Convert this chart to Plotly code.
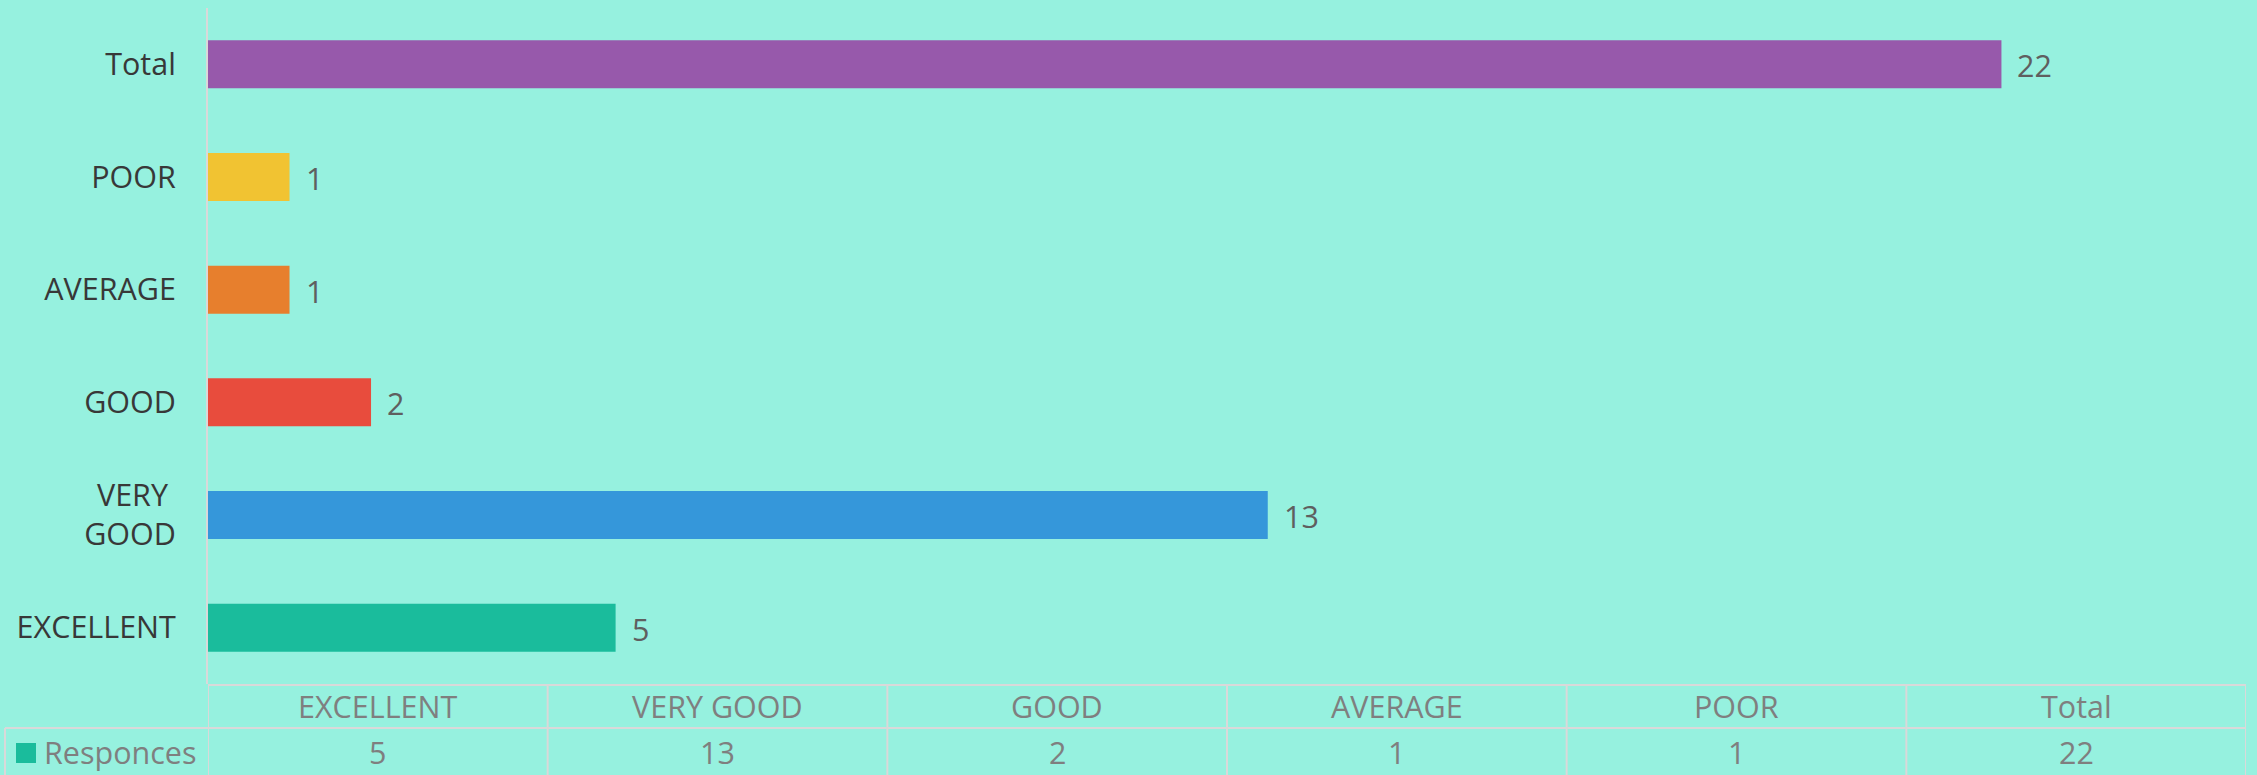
import plotly.graph_objects as go

# ---- data ----
categories = ["EXCELLENT", "VERY GOOD", "GOOD", "AVERAGE", "POOR", "Total"]
y_tick_labels = ["EXCELLENT", "VERY\u00a0<br>GOOD", "GOOD", "AVERAGE", "POOR", "Total"]
responces = [5, 13, 2, 1, 1, 22]
series_name = "Responces"
bar_colors = ["#1ABC9C", "#3597DA", "#E84C3D", "#E77F2D", "#F1C332", "#9759AB"]

# ---- styling ----
BG = "#96F1DF"
GRID = "#D9D9D9"
FONT = "Open Sans"
FS = 30.5
W, H = 2257, 775
ML, MR, MT, MB = 208, 11, 8, 91
PW = W - ML - MR
PH = H - MT - MB


def py(pix):
    """pixel y (from top) -> paper y"""
    return (H - MB - pix) / PH


def px(pix):
    return (pix - ML) / PW


fig = go.Figure()
fig.add_trace(go.Bar(
    x=responces, y=categories, orientation="h",
    marker=dict(color=bar_colors, line=dict(width=0)),
    name=series_name, showlegend=False, hoverinfo="x+y",
))
# invisible category axis for the data table columns
fig.add_trace(go.Scatter(x=categories, y=[None] * len(categories), xaxis="x2",
                         yaxis="y", showlegend=False, hoverinfo="skip"))

annotations = []
# data labels
for c, v in zip(categories, responces):
    annotations.append(dict(x=v, y=c, xref="x", yref="y", text=str(v), showarrow=False,
                            xanchor="left", yanchor="middle", xshift=14, yshift=-1,
                            font=dict(family=FONT, size=FS, color="#5F5F5F")))
# table header + values
for i, (c, v) in enumerate(zip(categories, responces)):
    annotations.append(dict(x=i, y=py(706), xref="x2", yref="paper", text=c, showarrow=False,
                            xanchor="center", yanchor="middle",
                            font=dict(family=FONT, size=FS, color="#7F7F7F")))
    annotations.append(dict(x=i, y=py(752), xref="x2", yref="paper", text=str(v), showarrow=False,
                            xanchor="center", yanchor="middle",
                            font=dict(family=FONT, size=FS, color="#7F7F7F")))
annotations.append(dict(x=px(42), y=py(752), xref="paper", yref="paper", text=series_name,
                        showarrow=False, xanchor="left", yanchor="middle",
                        font=dict(family=FONT, size=FS, color="#7F7F7F")))

shapes = []
line = dict(color=GRID, width=2)
n = len(categories)
# header top line
shapes.append(dict(type="line", xref="x2", yref="paper", x0=-0.5, x1=n - 0.5,
                   y0=py(685), y1=py(685), line=line))
# header/data divider (extends under legend cell)
shapes.append(dict(type="line", xref="paper", yref="paper", x0=px(5), x1=1,
                   y0=py(728), y1=py(728), line=line))
# column separators
for k in range(n + 1):
    shapes.append(dict(type="line", xref="x2", yref="paper", x0=k - 0.5, x1=k - 0.5,
                       y0=py(685), y1=py(776), line=line))
# legend cell left border
shapes.append(dict(type="line", xref="paper", yref="paper", x0=px(5), x1=px(5),
                   y0=py(728), y1=py(776), line=line))
# legend key
shapes.append(dict(type="rect", xref="paper", yref="paper", x0=px(16), x1=px(36),
                   y0=py(763), y1=py(743), fillcolor=bar_colors[0], line=dict(width=0)))

fig.update_layout(
    width=W, height=H,
    margin=dict(l=ML, r=MR, t=MT, b=MB, pad=0),
    paper_bgcolor=BG, plot_bgcolor=BG,
    bargap=0.574,
    showlegend=False,
    font=dict(family=FONT, size=FS, color="#333333"),
    xaxis=dict(range=[0, 25], visible=False, fixedrange=True),
    xaxis2=dict(range=[-0.5, n - 0.5], overlaying="x", anchor="y", visible=False,
                type="category", categoryorder="array", categoryarray=categories),
    yaxis=dict(type="category", categoryorder="array", categoryarray=categories,
               tickvals=categories, ticktext=y_tick_labels,
               showline=True, linecolor=GRID, linewidth=2, showgrid=False, zeroline=False,
               ticks="", ticklabelstandoff=24,
               tickfont=dict(family=FONT, size=FS, color="#383838")),
    annotations=annotations,
    shapes=shapes,
)

fig.write_html(
    "out.html",
    config={"displayModeBar": False},
    post_script="document.body.style.margin='0';document.body.style.padding='0';"
                "document.body.style.background='" + BG + "';"
                "document.body.style.overflow='hidden';",
)
